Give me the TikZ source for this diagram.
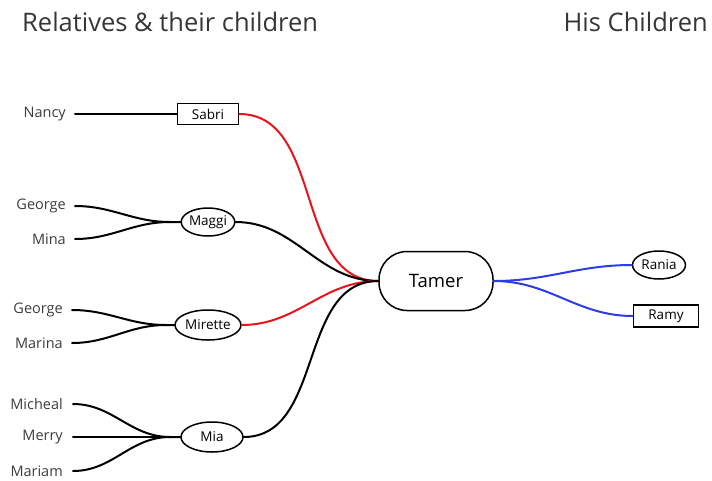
\documentclass[tikz,border=0pt]{standalone}
\usepackage{fontspec}
\setmainfont{Open Sans}
\usepackage{xcolor}
\usetikzlibrary{shapes.geometric, calc, positioning}
\definecolor{famred}{HTML}{E8141B}
\definecolor{famblue}{HTML}{2E3CE6}
\definecolor{famgray}{HTML}{3C3C3C}
\tikzset{
  % family line style
  fline/.style={
    line width = 2pt
    , line cap=round
  },
}
\tikzset{
  % person node styles
  person/.style={
    draw
    , line width=1.5pt
    , anchor=center
    , text centered
    , font=\fontsize{13.5}{15}\selectfont
  },
  pbox/.style={person, rectangle, minimum width=61pt, minimum height=21pt, inner sep=1pt},
  pell/.style={person, ellipse, inner xsep=0pt, inner ysep=1pt, minimum height=28pt},
  kid/.style={text=famgray, anchor=east, inner sep=0pt, font=\fontsize{14.5}{16}\selectfont},
  headline/.style={text=famgray!90!black, anchor=west, inner sep=0pt, font=\fontsize{25.5}{30}\selectfont},
}

\begin{document}
\begin{tikzpicture}[x=1pt, y=-1pt]
      \useasboundingbox (0,0) rectangle (712,480);

      % titles
      \node[headline] (ttl) at (22,22) {Relatives \& their children};
      \node[headline, anchor=east] (ttr) at (708,22) {His Children};

      % main person
      \node[person, rounded corners=28pt, minimum width=114pt, minimum height=59pt, font=\fontsize{18.5}{20}\selectfont] (tamer) at (436,281) {Tamer};

      % relatives
      \node[pbox] (sabri) at (208,114) {Sabri};
      \node[pell, minimum width=53pt] (maggi) at (208,222) {Maggi};
      \node[pell, minimum width=66pt, minimum height=30pt] (mirette) at (208,325) {Mirette};
      \node[pell, minimum width=62pt, minimum height=30pt] (mia) at (212,437) {Mia};

      % his children
      \node[pell, minimum width=53pt] (rania) at (659,265) {Rania};
      \node[pbox, minimum width=65pt, minimum height=22pt] (ramy) at (666,316) {Ramy};

      % their children
      \node[kid] (nancy) at (66,114) {Nancy};
      \node[kid] (georgea) at (66,206) {George};
      \node[kid] (mina) at (66,239) {Mina};
      \node[kid] (georgeb) at (63,310) {George};
      \node[kid] (marina) at (63,343) {Marina};
      \node[kid] (micheal) at (63,404) {Micheal};
      \node[kid] (merry) at (63,437) {Merry};
      \node[kid] (mariam) at (63,471) {Mariam};

      \coordinate (jmaggi) at (170,222);
      \coordinate (jmirette) at (166,325);
      \coordinate (jmia) at (170,437);

      \draw[fline] ([xshift=9pt]nancy.east) -- (sabri.west);
      \draw[fline] ([xshift=9pt]georgea.east) to[out=0,in=180] (jmaggi) -- (maggi.west);
      \draw[fline] ([xshift=9pt]mina.east) to[out=0,in=180] (jmaggi);
      \draw[fline] ([xshift=9pt]georgeb.east) to[out=0,in=180] (jmirette) -- (mirette.west);
      \draw[fline] ([xshift=9pt]marina.east) to[out=0,in=180] (jmirette);
      \draw[fline] ([xshift=10pt]micheal.east) to[out=0,in=180] (jmia) -- (mia.west);
      \draw[fline] ([xshift=10pt]merry.east) -- (jmia);
      \draw[fline] ([xshift=10pt]mariam.east) to[out=0,in=180] (jmia);

      \draw[fline,famred] (sabri.east) to[out=0,in=180] (tamer.west);
      \draw[fline] (maggi.east) to[out=0,in=180] (tamer.west);
      \draw[fline,famred] (mirette.east) to[out=0,in=180] (tamer.west);
      \draw[fline] (mia.east) to[out=0,in=180] (tamer.west);

      \draw[fline,famblue] (tamer.east) to[out=0,in=180] (rania.west);
      \draw[fline,famblue] (tamer.east) to[out=0,in=180] (ramy.west);
    \end{tikzpicture}
\end{document}
